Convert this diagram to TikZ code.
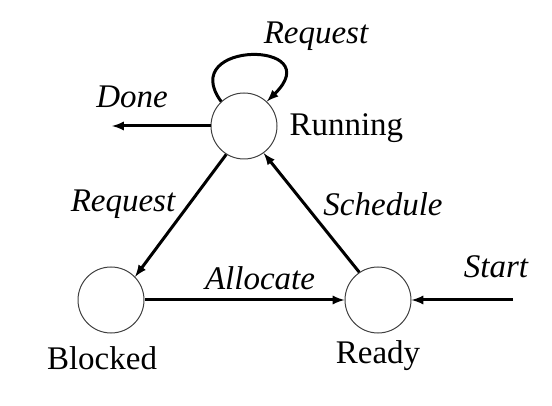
\documentclass[tikz,border=0pt]{standalone}
\usepackage{fontspec}
\setmainfont{Liberation Serif}[ItalicFont={Liberation Serif Italic}]
\usetikzlibrary{arrows,positioning}

\begin{document}
\begin{tikzpicture}[x=1pt, y=-1pt, >=latex,
  every node/.style={font=\fontsize{33}{36}\selectfont},
  state/.style={draw=black!75, line width=1pt, circle, minimum size=66pt, inner sep=0pt},
  trans/.style={->, line width=3pt},
  act/.style={font=\fontsize{33}{36}\selectfont\itshape}]
\useasboundingbox (0,0) rectangle (552,406);
\node[state] (running) at (244,126) {};
\node[state] (blocked) at (111,300) {};
\node[state] (ready) at (378,300) {};
\node[anchor=west] (runlbl) at (286,128) {Running};
\node (blklbl) at (102,358) {Blocked};
\node (rdylbl) at (378,356) {Ready};
\coordinate (doneend) at (112,126);
\coordinate (startbeg) at (513,300);
% transitions
\draw[trans] (running.133) .. controls (176,40) and (330,40) .. (running.47);
\draw[trans] (running.west) -- (doneend);
\draw[trans] (running.238) -- (blocked.44);
\draw[trans] (ready.124) -- (running.306);
\draw[trans] (blocked.east) -- (ready.west);
\draw[trans] (startbeg) -- (ready.east);
% labels
\node[act] (reqtop) at (316,36) {Request};
\node[act] (done) at (132,97) {Done};
\node[act] (reqleft) at (123,204) {Request};
\node[act] (sched) at (383,204) {Schedule};
\node[act] (alloc) at (260,278) {Allocate};
\node[act] (start) at (496,267) {Start};
\end{tikzpicture}
\end{document}
